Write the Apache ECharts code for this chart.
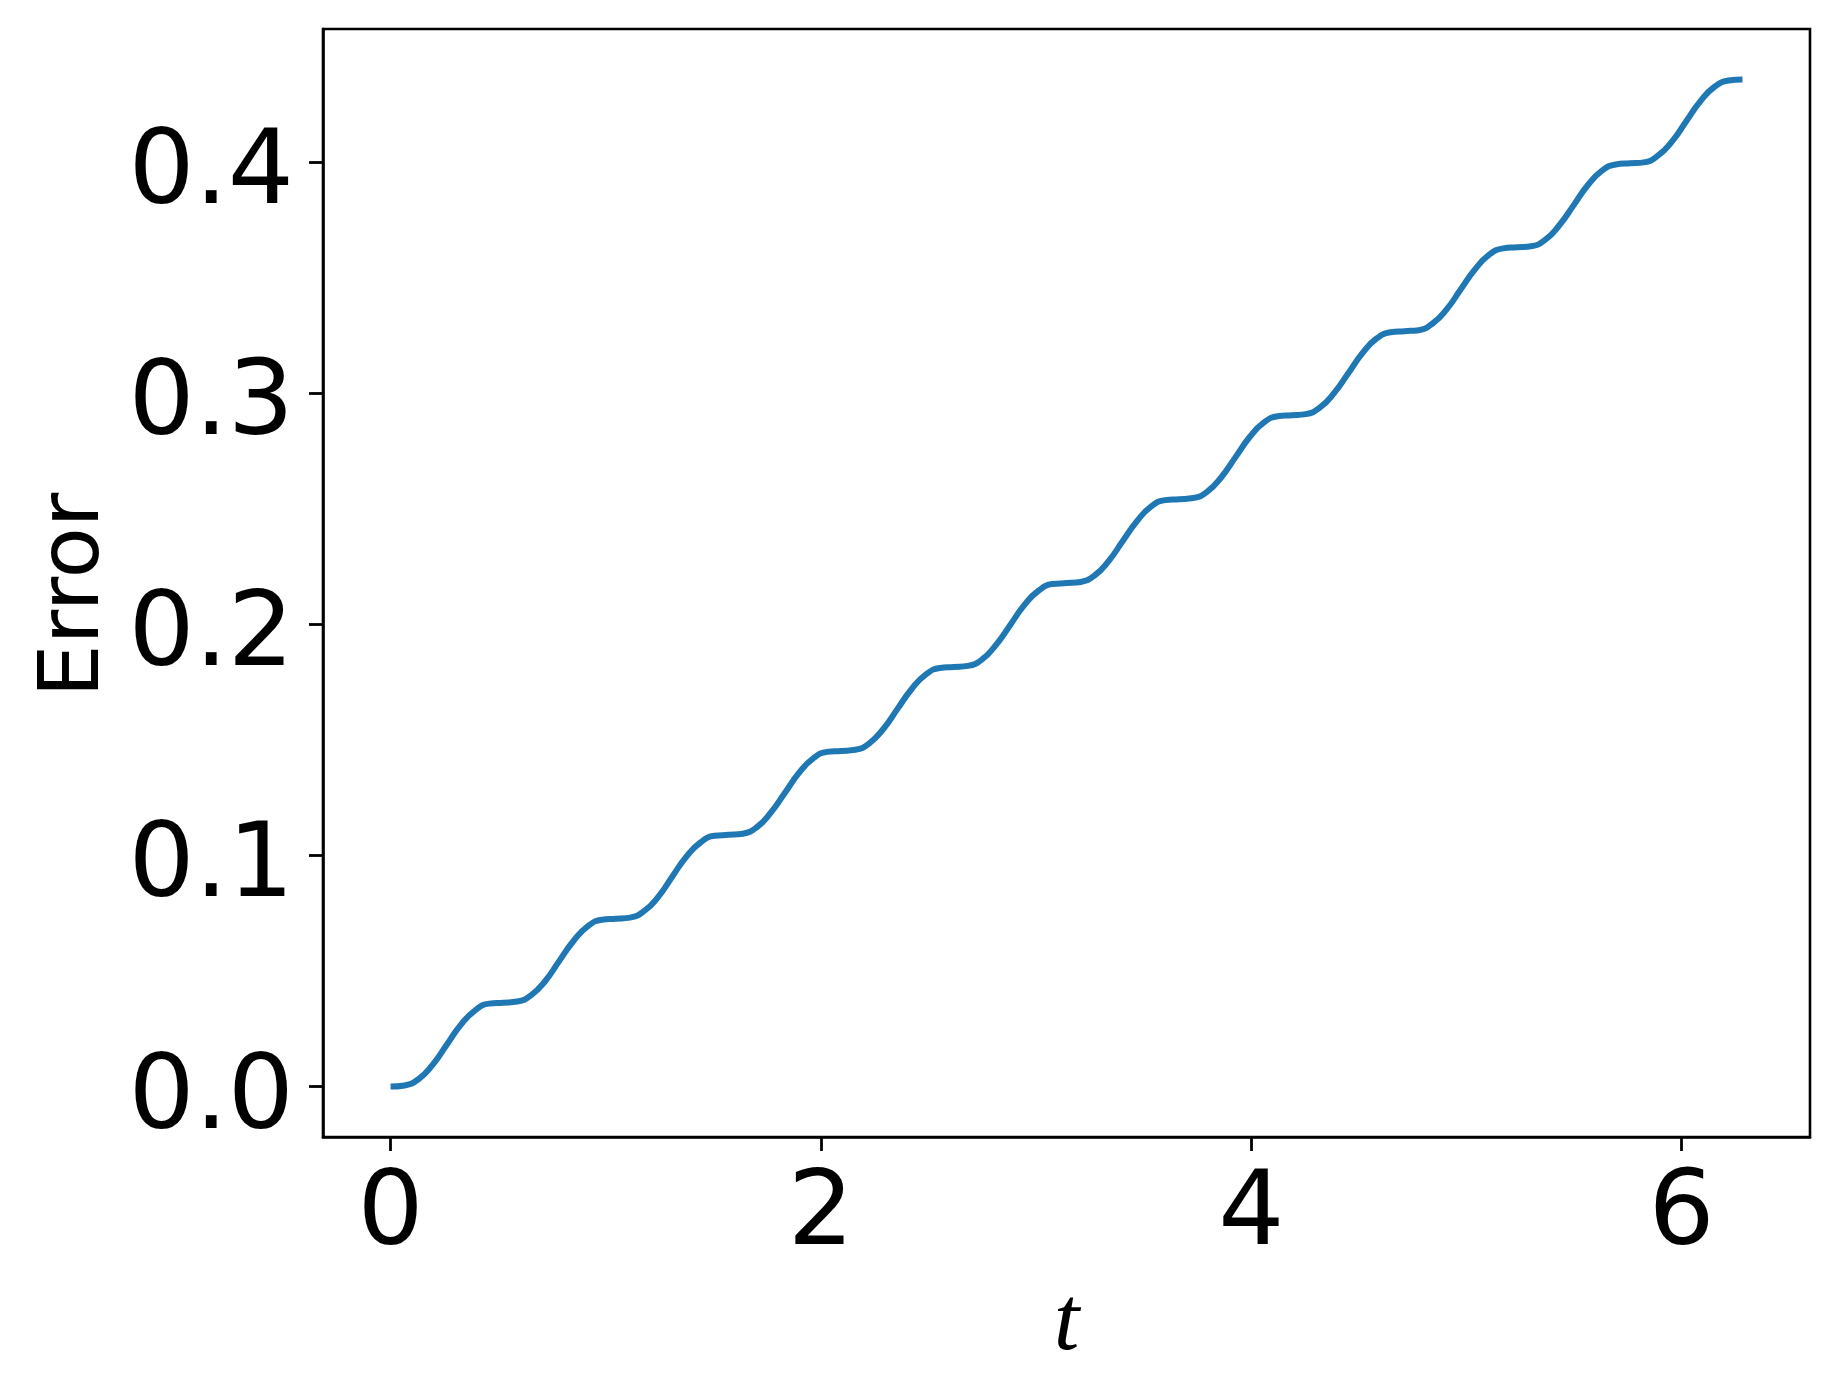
<!DOCTYPE html>
<html>
<head>
<meta charset="utf-8">
<script src="https://cdn.jsdelivr.net/npm/echarts@6/dist/echarts.min.js"></script>
<style>
  html, body { margin: 0; padding: 0; background: #fff; }
  #chart { width: 1840px; height: 1396px; }
</style>
</head>
<body>
<div id="chart"></div>
<script>
// error curve, t from 0 to 2*pi
const tVals = [
  0.000, 0.065, 0.131, 0.196, 0.262, 0.327, 0.393, 0.458,
  0.524, 0.589, 0.654, 0.720, 0.785, 0.851, 0.916, 0.982,
  1.047, 1.113, 1.178, 1.244, 1.309, 1.374, 1.440, 1.505,
  1.571, 1.636, 1.702, 1.767, 1.833, 1.898, 1.963, 2.029,
  2.094, 2.160, 2.225, 2.291, 2.356, 2.422, 2.487, 2.553,
  2.618, 2.683, 2.749, 2.814, 2.880, 2.945, 3.011, 3.076,
  3.142, 3.207, 3.272, 3.338, 3.403, 3.469, 3.534, 3.600,
  3.665, 3.731, 3.796, 3.862, 3.927, 3.992, 4.058, 4.123,
  4.189, 4.254, 4.320, 4.385, 4.451, 4.516, 4.581, 4.647,
  4.712, 4.778, 4.843, 4.909, 4.974, 5.040, 5.105, 5.171,
  5.236, 5.301, 5.367, 5.432, 5.498, 5.563, 5.629, 5.694,
  5.760, 5.825, 5.890, 5.956, 6.021, 6.087, 6.152, 6.218,
  6.283
];
const errVals = [
  0.0000, 0.0005, 0.0033, 0.0095, 0.0182, 0.0268, 0.0330, 0.0359,
  0.0363, 0.0368, 0.0396, 0.0458, 0.0545, 0.0631, 0.0693, 0.0722,
  0.0726, 0.0731, 0.0759, 0.0821, 0.0908, 0.0994, 0.1056, 0.1085,
  0.1089, 0.1094, 0.1122, 0.1185, 0.1271, 0.1357, 0.1419, 0.1448,
  0.1452, 0.1457, 0.1485, 0.1548, 0.1634, 0.1720, 0.1782, 0.1811,
  0.1815, 0.1820, 0.1848, 0.1911, 0.1997, 0.2083, 0.2145, 0.2174,
  0.2178, 0.2183, 0.2211, 0.2274, 0.2360, 0.2446, 0.2509, 0.2537,
  0.2541, 0.2546, 0.2574, 0.2637, 0.2723, 0.2809, 0.2872, 0.2900,
  0.2904, 0.2909, 0.2938, 0.3000, 0.3086, 0.3172, 0.3235, 0.3263,
  0.3268, 0.3272, 0.3301, 0.3363, 0.3449, 0.3535, 0.3598, 0.3626,
  0.3631, 0.3635, 0.3664, 0.3726, 0.3812, 0.3898, 0.3961, 0.3989,
  0.3994, 0.3998, 0.4027, 0.4089, 0.4175, 0.4262, 0.4324, 0.4352,
  0.4357
];
const xTicks = [0, 2, 4, 6];
const yTicks = [0.0, 0.1, 0.2, 0.3, 0.4];

const INK = '#000';
const LINE = '#1f77b4';
const TICK_FONT = { color: INK, fontSize: 104, fontFamily: "'DejaVu Sans', sans-serif" };

const chart = echarts.init(document.getElementById('chart'), null, { renderer: 'canvas' });

chart.setOption({
  backgroundColor: '#fff',
  animation: false,
  grid: {
    left: 323, right: 30, top: 29, bottom: 259,
    show: true, borderColor: INK, borderWidth: 2.6, backgroundColor: 'transparent',
  },
  xAxis: {
    type: 'value',
    min: -0.314, max: 6.597,
    name: 't', nameLocation: 'middle', nameGap: 142,
    nameTextStyle: { color: INK, fontSize: 92, fontStyle: 'italic', fontFamily: "'Liberation Serif', serif" },
    axisLine: { show: true, onZero: false, lineStyle: { color: INK, width: 2.6 } },
    axisTick: { show: true, length: 14, lineStyle: { color: INK, width: 2.8 }, customValues: xTicks },
    axisLabel: { ...TICK_FONT, margin: 28, customValues: xTicks, formatter: v => String(v) },
    splitLine: { show: false },
  },
  yAxis: {
    type: 'value',
    min: -0.0218, max: 0.4575,
    name: 'Error', nameLocation: 'middle', nameGap: 195,
    nameTextStyle: { color: INK, fontSize: 84, fontFamily: "'DejaVu Sans', sans-serif", padding: [0, 24, 0, 0] },
    axisLine: { show: true, onZero: false, lineStyle: { color: INK, width: 2.6 } },
    axisTick: { show: true, length: 14, lineStyle: { color: INK, width: 2.8 }, customValues: yTicks },
    axisLabel: {
      ...TICK_FONT, margin: 29, verticalAlign: 'top', lineHeight: 28,
      customValues: yTicks, formatter: v => v.toFixed(1),
    },
    splitLine: { show: false },
  },
  series: [{
    type: 'line',
    data: tVals.map((t, i) => [t, errVals[i]]),
    smooth: 0.5,
    symbol: 'none',
    lineStyle: { color: LINE, width: 6 },
  }],
});
</script>
</body>
</html>
